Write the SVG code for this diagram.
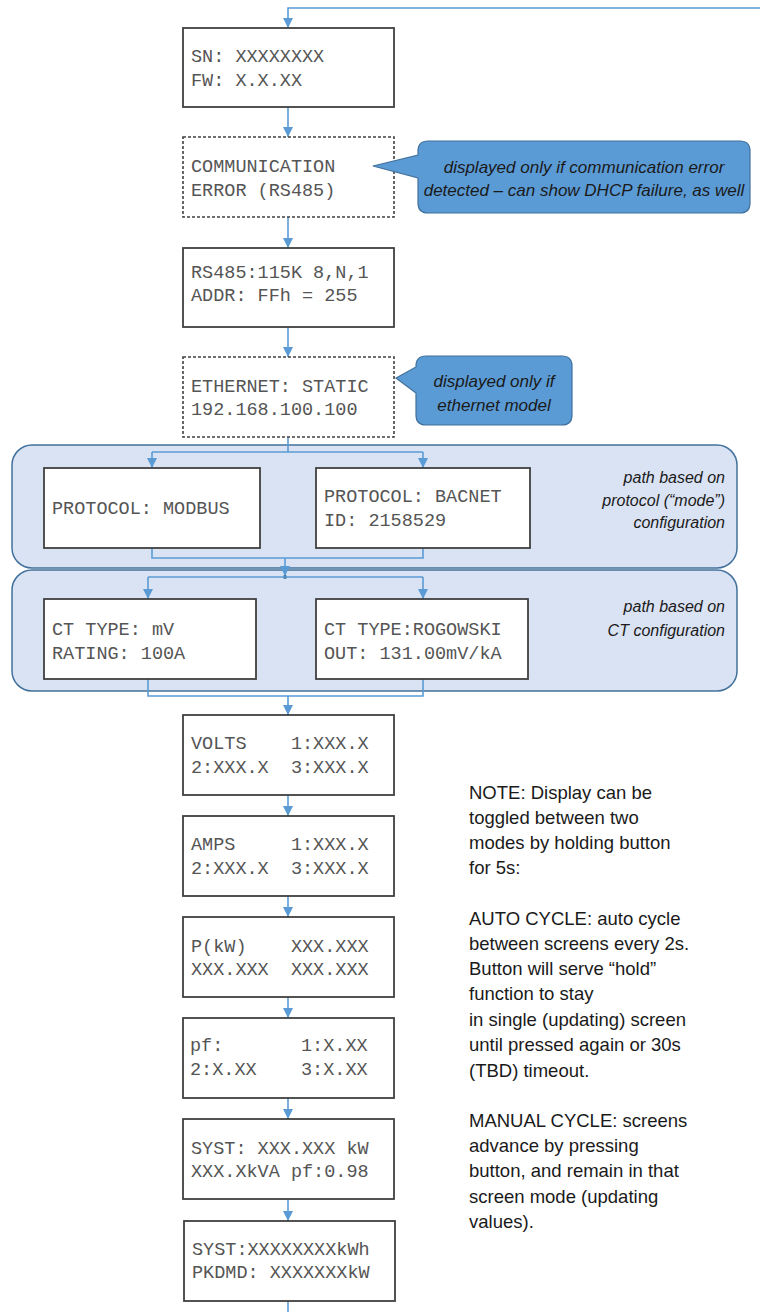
<svg xmlns="http://www.w3.org/2000/svg" width="760" height="1312" viewBox="0 0 760 1312">
<style>
.box{fill:#fff;stroke:#404040;stroke-width:1.8}
.dash{fill:#fff;stroke:#404040;stroke-width:1.6;stroke-dasharray:3 2}
.mono{font-family:"Liberation Mono","Courier New",monospace;font-size:18.5px;fill:#555}
.grp{fill:#dae3f3;stroke:#41719c;stroke-width:1.5}
.call{fill:#5b9bd5;stroke:#41719c;stroke-width:1.2}
.it{font-family:"Liberation Sans",Arial,sans-serif;font-style:italic;font-size:17px;fill:#1a1a1a}
.it2{font-family:"Liberation Sans",Arial,sans-serif;font-style:italic;font-size:16px;fill:#1a1a1a}
.note{font-family:"Liberation Sans",Arial,sans-serif;font-size:18.5px;fill:#1a1a1a}
.con{fill:none;stroke:#5b9bd5;stroke-width:1.6}
</style>
<defs>
<marker id="ah" viewBox="0 0 10 10" refX="10" refY="5" markerWidth="10" markerHeight="10" markerUnits="userSpaceOnUse" orient="auto">
<path d="M0,0 L10,5 L0,10 z" fill="#5b9bd5"/>
</marker>
</defs>
<g id="groups">
<rect id="grp-protocol" class="grp" x="12" y="445" width="725" height="123" rx="20"/>
<rect id="grp-ct" class="grp" x="12" y="570" width="725" height="121" rx="20"/>
</g>
<g id="connectors">
<path class="con" d="M760,8 H288 V28" marker-end="url(#ah)"/>
<path class="con" d="M288,107 V137" marker-end="url(#ah)"/>
<path class="con" d="M288,217 V248" marker-end="url(#ah)"/>
<path class="con" d="M288,327 V357" marker-end="url(#ah)"/>
<path class="con" d="M288,437 V452"/>
<path class="con" d="M152,452 H423"/>
<path class="con" d="M152,452 V468" marker-end="url(#ah)"/>
<path class="con" d="M423,452 V468" marker-end="url(#ah)"/>
<path class="con" d="M152,548 V558 H423 V548"/>
<path class="con" d="M285,558 V576" marker-end="url(#ah)"/>
<circle cx="285" cy="577" r="2" fill="#41719c"/>
<path class="con" d="M148,577 H423"/>
<path class="con" d="M148,577 V599" marker-end="url(#ah)"/>
<path class="con" d="M423,577 V599" marker-end="url(#ah)"/>
<path class="con" d="M148,679 V696 H423 V679"/>
<path class="con" d="M288,696 V715" marker-end="url(#ah)"/>
<path class="con" d="M288,795 V816" marker-end="url(#ah)"/>
<path class="con" d="M288,896 V917" marker-end="url(#ah)"/>
<path class="con" d="M288,997 V1018" marker-end="url(#ah)"/>
<path class="con" d="M288,1098 V1119" marker-end="url(#ah)"/>
<path class="con" d="M288,1199 V1221" marker-end="url(#ah)"/>
<path class="con" d="M288,1301 V1312"/>
</g>
<g id="n-sn"><rect class="box" x="183" y="28" width="211" height="79"/>
<text class="mono" x="191" y="62">SN: XXXXXXXX</text><text class="mono" x="191" y="86">FW: X.X.XX</text></g>
<g id="n-commerr"><rect class="dash" x="183" y="137" width="211" height="80"/>
<text class="mono" x="191" y="172">COMMUNICATION</text><text class="mono" x="191" y="196">ERROR (RS485)</text></g>
<g id="c-commerr"><path class="call" d="M428,141 H740 Q750,141 750,151 V203 Q750,213 740,213 H428 Q418,213 418,203 V178 L373,166 L418,155 V151 Q418,141 428,141 Z"/>
<text class="it" x="584" y="173" text-anchor="middle">displayed only if communication error</text>
<text class="it" x="584" y="196" text-anchor="middle">detected – can show DHCP failure, as well</text></g>
<g id="n-rs485"><rect class="box" x="183" y="248" width="211" height="79"/>
<text class="mono" x="191" y="278">RS485:115K 8,N,1</text><text class="mono" x="191" y="301">ADDR: FFh = 255</text></g>
<g id="n-eth"><rect class="dash" x="183" y="357" width="211" height="80"/>
<text class="mono" x="191" y="392">ETHERNET: STATIC</text><text class="mono" x="191" y="415">192.168.100.100</text></g>
<g id="c-eth"><path class="call" d="M426,356 H562 Q572,356 572,366 V415 Q572,425 562,425 H426 Q416,425 416,415 V393 L396,378 L416,367 V366 Q416,356 426,356 Z"/>
<text class="it" x="494" y="387" text-anchor="middle">displayed only if</text>
<text class="it" x="494" y="411" text-anchor="middle">ethernet model</text></g>
<g id="n-modbus"><rect class="box" x="44" y="468" width="216" height="80"/>
<text class="mono" x="52" y="514">PROTOCOL: MODBUS</text></g>
<g id="n-bacnet"><rect class="box" x="316" y="468" width="214" height="80"/>
<text class="mono" x="324" y="502">PROTOCOL: BACNET</text><text class="mono" x="324" y="526">ID: 2158529</text></g>
<g id="t-protocol">
<text class="it2" x="725" y="483" text-anchor="end">path based on</text>
<text class="it2" x="725" y="506" text-anchor="end">protocol (“mode”)</text>
<text class="it2" x="725" y="528" text-anchor="end">configuration</text></g>
<g id="n-ctmv"><rect class="box" x="44" y="599" width="212" height="80"/>
<text class="mono" x="52" y="635">CT TYPE: mV</text><text class="mono" x="52" y="659">RATING: 100A</text></g>
<g id="n-ctrog"><rect class="box" x="316" y="599" width="212" height="80"/>
<text class="mono" x="324" y="635">CT TYPE:ROGOWSKI</text><text class="mono" x="324" y="659">OUT: 131.00mV/kA</text></g>
<g id="t-ct">
<text class="it2" x="725" y="612" text-anchor="end">path based on</text>
<text class="it2" x="725" y="636" text-anchor="end">CT configuration</text></g>
<g id="n-volts"><rect class="box" x="183" y="715" width="211" height="80"/>
<text class="mono" x="191" y="749" xml:space="preserve">VOLTS    1:XXX.X</text><text class="mono" x="191" y="773" xml:space="preserve">2:XXX.X  3:XXX.X</text></g>
<g id="n-amps"><rect class="box" x="183" y="816" width="211" height="80"/>
<text class="mono" x="191" y="850" xml:space="preserve">AMPS     1:XXX.X</text><text class="mono" x="191" y="874" xml:space="preserve">2:XXX.X  3:XXX.X</text></g>
<g id="n-pkw"><rect class="box" x="183" y="917" width="211" height="80"/>
<text class="mono" x="191" y="952" xml:space="preserve">P(kW)    XXX.XXX</text><text class="mono" x="191" y="975" xml:space="preserve">XXX.XXX  XXX.XXX</text></g>
<g id="n-pf"><rect class="box" x="183" y="1018" width="211" height="80"/>
<text class="mono" x="190" y="1051" xml:space="preserve">pf:       1:X.XX</text><text class="mono" x="190" y="1075" xml:space="preserve">2:X.XX    3:X.XX</text></g>
<g id="n-syst"><rect class="box" x="183" y="1119" width="211" height="80"/>
<text class="mono" x="191" y="1154">SYST: XXX.XXX kW</text><text class="mono" x="191" y="1177">XXX.XkVA pf:0.98</text></g>
<g id="n-kwh"><rect class="box" x="184" y="1221" width="211" height="80"/>
<text class="mono" x="192" y="1255">SYST:XXXXXXXXkWh</text><text class="mono" x="192" y="1278">PKDMD: XXXXXXXkW</text></g>
<g id="note">
<text class="note" x="469" y="799">NOTE: Display can be</text>
<text class="note" x="469" y="824">toggled between two</text>
<text class="note" x="469" y="849">modes by holding button</text>
<text class="note" x="469" y="874">for 5s:</text>
<text class="note" x="469" y="925">AUTO CYCLE: auto cycle</text>
<text class="note" x="469" y="950">between screens every 2s.</text>
<text class="note" x="469" y="975">Button will serve “hold”</text>
<text class="note" x="469" y="1000">function to stay</text>
<text class="note" x="469" y="1026">in single (updating) screen</text>
<text class="note" x="469" y="1051">until pressed again or 30s</text>
<text class="note" x="469" y="1077">(TBD) timeout.</text>
<text class="note" x="469" y="1127">MANUAL CYCLE: screens</text>
<text class="note" x="469" y="1152">advance by pressing</text>
<text class="note" x="469" y="1177">button, and remain in that</text>
<text class="note" x="469" y="1203">screen mode (updating</text>
<text class="note" x="469" y="1228">values).</text>
</g>
</svg>
